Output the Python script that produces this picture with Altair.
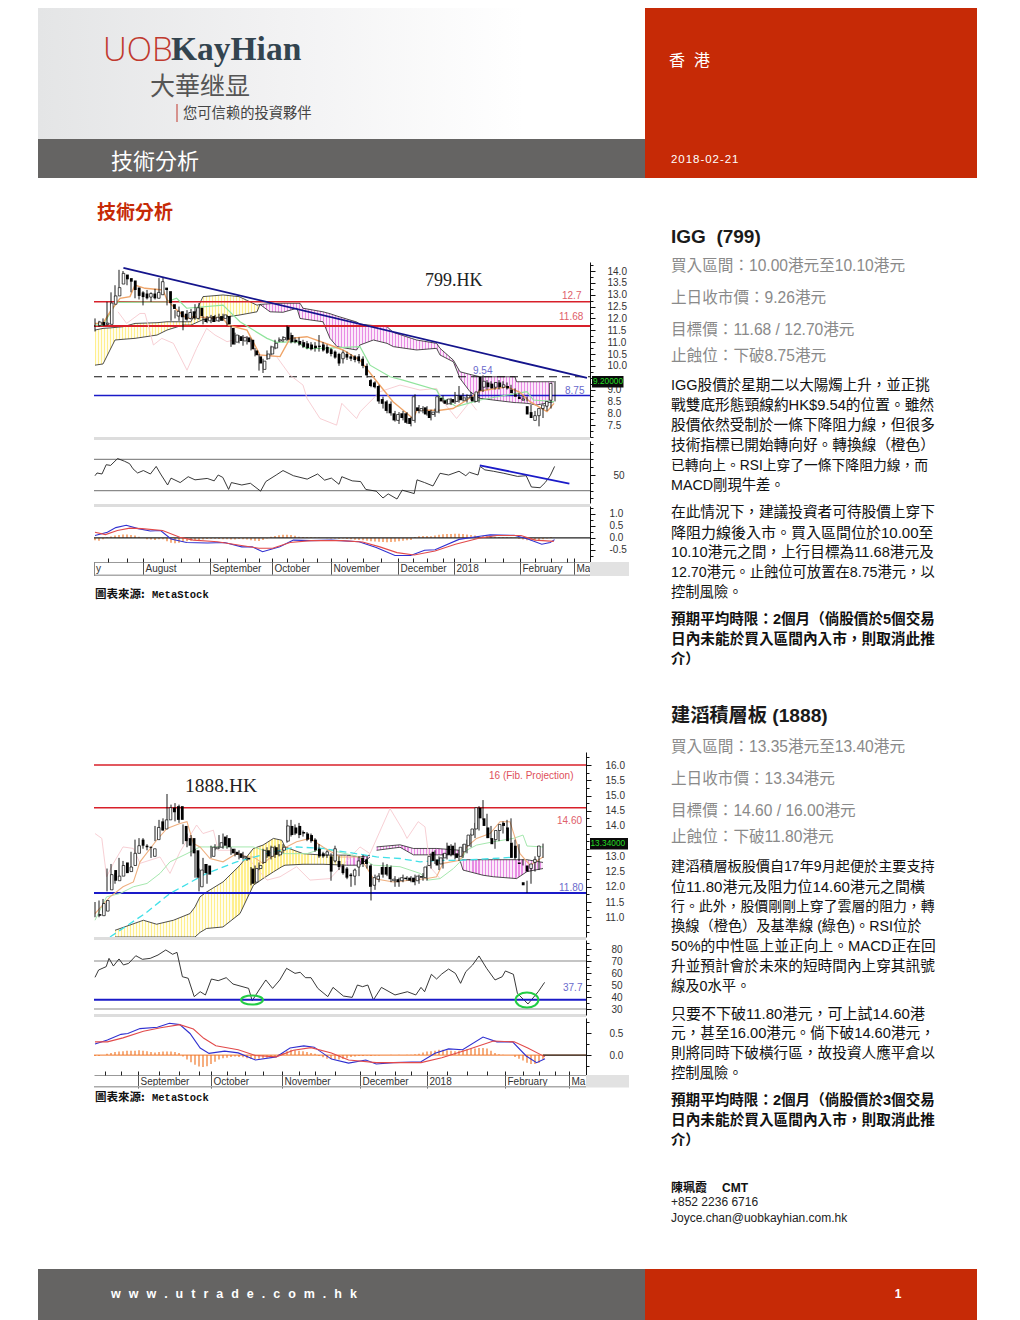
import altair as alt
import pandas as pd

W, H, M = 1004, 1312, 8
CJK = "Liberation Sans, Noto Sans CJK TC"
layers = []

# ---------- chart 1 : 799.HK ----------
a_open = [11.7,11.85,11.75,11.75,12.6,12.95,13.45,13.85,13.7,13.6,13.3,13.1,13.05,12.9,13.05,12.85,13.0,13.3,13.15,12.6,12.1,12.3,12.2,12.0,12.3,12.0,12.45,12.0,11.9,12.1,11.9,12.1,12.0,12.1,11.6,11.0,11.25,11.05,11.2,11.1,10.65,10.4,9.85,10.3,10.5,10.75,11.05,11.1,11.65,11.3,11.1,11.05,11.0,10.95,10.9,10.85,10.85,10.9,10.8,10.7,10.6,10.5,10.3,10.5,10.4,10.4,10.4,10.3,10.0,9.4,9.3,9.15,8.6,8.5,8.4,8.0,7.7,8.0,8.0,7.8,7.7,8.25,8.1,8.25,8.1,7.95,8.05,8.65,8.55,8.4,8.6,8.5,8.75,8.55,8.65,8.7,8.5,9.55,9.1,9.3,9.25,9.1,9.3,9.1,9.15,9.0,8.8,8.7,8.55,8.3,8.05,7.7,7.9,8.2,8.3,8.55]
a_close = [11.85,11.7,11.8,12.65,12.95,13.3,13.9,13.65,13.55,13.2,12.95,12.9,12.85,13.05,12.85,13.1,13.55,13.2,12.65,12.4,12.3,12.05,11.95,12.25,12.0,12.45,12.1,11.85,12.05,11.85,12.05,11.9,12.15,11.75,10.9,11.3,11.05,11.2,11.0,10.7,10.45,10.1,10.2,10.5,10.8,10.95,11.1,11.2,11.1,11.0,11.0,10.9,10.8,10.75,10.7,10.75,10.8,10.65,10.55,10.5,10.35,10.1,10.55,10.35,10.3,10.25,10.2,10.0,9.6,9.15,9.1,8.5,8.4,8.1,8.0,7.7,7.95,7.8,7.6,7.55,8.7,8.1,8.2,7.95,7.8,8.05,8.7,8.5,8.4,8.6,8.45,8.75,8.55,8.65,8.75,8.5,8.9,8.95,9.35,9.1,9.05,9.3,9.1,9.2,9.05,8.85,8.7,8.6,8.6,7.95,7.8,7.9,8.2,8.35,8.5,9.26]
a_high = [12.0,11.9,12.0,12.7,13.1,13.4,14.05,14.0,13.8,13.65,13.4,13.3,13.15,13.2,13.1,13.25,13.7,13.75,13.2,12.7,12.35,12.5,12.3,12.35,12.4,12.6,12.65,12.1,12.1,12.15,12.15,12.2,12.2,12.15,11.7,11.4,11.3,11.3,11.25,11.15,10.75,10.5,10.3,10.65,10.85,11.1,11.2,11.25,11.7,11.4,11.2,11.2,11.1,11.05,11.0,11.0,11.3,11.0,10.9,10.75,10.65,10.55,10.65,10.6,10.5,10.45,10.5,10.4,10.1,9.45,9.35,9.2,8.7,8.55,8.5,8.1,8.05,8.1,8.05,7.85,8.8,8.35,8.3,8.3,8.15,8.2,8.75,8.75,8.6,8.65,8.9,9.15,8.85,8.8,8.9,8.8,9.0,9.6,9.4,9.35,9.3,9.4,9.35,9.3,9.2,9.05,8.85,8.75,8.7,8.35,8.1,8.0,8.3,8.4,8.6,9.36]
a_low = [11.45,11.65,11.7,11.7,12.55,12.9,13.3,13.5,13.4,13.1,12.85,12.8,12.55,12.8,12.7,12.8,12.95,13.15,12.55,11.9,12.0,11.9,11.5,11.9,11.95,11.95,11.95,11.75,11.8,11.8,11.85,11.85,11.9,11.7,10.8,10.9,10.95,10.85,10.9,10.65,10.4,9.8,9.7,10.25,10.45,10.7,11.0,11.0,11.05,10.95,10.95,10.85,10.75,10.7,10.65,10.6,10.6,10.6,10.5,10.4,10.3,10.0,10.1,10.25,10.2,10.15,10.1,9.9,9.5,9.1,9.05,8.4,8.2,8.0,7.9,7.65,7.55,7.7,7.55,7.45,7.6,8.0,8.0,7.9,7.7,7.85,8.0,8.45,8.35,8.35,8.4,8.45,8.5,8.45,8.55,8.45,8.45,8.9,9.0,9.05,9.0,9.0,9.05,9.0,9.0,8.8,8.65,8.55,8.5,7.9,7.75,7.45,7.8,8.1,8.2,8.5]

a_orange_x = [0,2,3.75,6.25,8.75,10,12.5,17,18,20.5,23,24.5,32,33.3,38,39.5,41.25,46.25,48.75,53,58.75,62,66.25,70.5,74.5,79.5,80.5,86.25,89.5,93,96.25,103,106.25,108.75,113,114.75]
a_orange_y = [11.79,11.79,12.28,12.85,12.92,13.41,13.27,13.2,12.78,12.35,12.0,12.07,12.0,11.72,11.51,11.02,10.46,10.39,11.16,11.23,10.88,10.67,10.24,9.33,8.49,7.78,8.13,8.13,8.2,8.56,8.94,9.12,8.88,8.49,8.07,8.42]
a_green_x = [0,2,5.4,17.9,20.4,22.9,32,36.25,39.6,43,45.4,50.4,52.9,57,66.25,68.75,73.75,77,85.4,86.25,90.4,96.25,103,108,109.6,114.75]
a_green_y = [11.72,11.72,12.68,12.7,12.85,12.43,12.56,11.86,11.51,11.16,10.99,11.02,10.74,10.74,10.81,10.03,9.54,9.4,8.98,8.7,8.28,8.56,8.77,8.91,8.56,8.49]
a_pink_x = [5.75,7.9,11.25,12.5,14.6,16.7,19.6,23,25.4,27.9,30,33,38,40.4,45.4,48.75,52,53,56.25,60.4,61.7,65.4,66.25,71.25,76.25,81.25,85.4,87,90.4,93.75,95.4]
a_pink_y = [12.28,11.79,12.21,12.21,10.88,11.16,10.95,9.82,10.74,11.58,11.3,11.02,11.23,10.46,10.39,9.61,9.19,8.63,7.78,7.5,8.42,7.78,8.06,8.91,9.19,8.98,9.05,8.49,7.78,8.49,8.13]
a_yellow_x = [0,2,3.75,5,7,10,15.5,18,22,24,27,32,36,40.5,41.25]
a_yellow_up = [11.51,11.58,11.6,11.62,11.65,11.79,11.82,11.86,11.86,11.86,12.92,12.99,12.92,12.56,12.59]
a_yellow_lo = [10.03,10.08,10.67,11.09,11.12,11.16,11.3,11.51,11.72,11.72,11.95,12.05,12.14,12.28,12.59]
a_mag_x = [41.25,43.75,47,50.5,51.25,52,57,58.75,60.5,65.4,66.25,69.6,73,74.6,80.4,85.4,86.25,89.6,91.25,93.75,96.25,101,105,105.4,108,110.4,114.75]
a_mag_up = [12.59,12.62,12.64,12.64,12.64,12.43,12.28,12.2,12.1,11.85,11.76,11.7,11.65,11.41,11.09,10.95,10.74,10.24,9.75,9.64,9.54,9.54,9.54,9.33,9.33,9.33,9.33]
a_mag_lo = [12.59,12.28,12.26,12.43,12.0,11.98,11.86,11.16,10.81,10.67,10.88,11.09,10.95,10.81,10.67,10.74,10.46,10.17,9.47,8.91,8.63,8.53,8.45,8.45,8.42,8.35,8.49]
a_trend_x, a_trend_y = [7.1,123], [14.13,9.49]
a_rsi_x = [0,0.5,1.75,2.8,3.9,5.65,7.4,8.65,9.5,10.65,12.1,13.85,15.3,16.4,18.15,19,21.3,23.3,25,28.05,29.8,30.8,31.95,33.4,34.1,36.7,38.85,41.4,42.7,45.3,47,49.6,53.05,55.65,57.4,59.1,61,61.7,64.3,66.4,67.7,70.3,72,73.3,75.5,76.8,79.8,80.5,82.4,84.5,86.25,88.4,91,92.7,93.6,95.75,96.3,97.45,99.6,102.2,105.65,107.8,109.1,111.25,112.55,113.8,114.9]
a_rsi_y = [49.1,52.6,51.3,63.2,62.3,71.1,67.6,64.5,57.9,52.6,55.7,51.3,61,51.3,37.2,46,40.3,47.8,43.8,45.6,42.5,50,46.9,31.5,40.3,37.2,39.4,29.3,41.6,50,55.7,49.1,44.7,51.3,43.4,46,38.1,47.8,42.5,41.6,31.5,29.3,20.5,25.8,19.2,30.6,26.2,43.8,40.3,35.9,52.2,50,54.8,49.1,53.5,50,61,56.6,54.8,52.2,48.2,49.1,34.6,33.7,40.3,49.1,61]
a_rsi_trend_x, a_rsi_trend_y = [96.2,118.6], [62.3,39]
a_macd_x = [0,3.1,5.2,7.8,10.8,13.8,16.4,19,22.9,28.1,32.4,36.7,39.3,41.9,46.2,49.6,54,59.1,66,70.3,75,78.9,82.4,85,91,96.2,98.8,104.8,108.2,111.7,113.8,114.9]
a_macd_y = [0.1,0.24,0.43,0.53,0.39,0.29,0.31,-0.04,-0.19,-0.21,-0.19,-0.37,-0.37,-0.57,-0.37,-0.09,-0.11,-0.09,-0.16,-0.4,-0.73,-0.73,-0.51,-0.49,-0.06,0.07,0.13,0.11,-0.04,-0.26,-0.19,-0.07]
a_sig_x = [0,2.6,5.6,8.7,11.7,16.9,21.2,24.6,30.6,35.8,41,44.4,48.75,54,61.7,66.9,71.2,75.5,79.8,85,90.1,96.2,100.5,106.5,110,114.7]
a_sig_y = [0.24,0.14,0.31,0.41,0.39,0.31,0.03,-0.09,-0.16,-0.29,-0.43,-0.43,-0.19,-0.11,-0.11,-0.17,-0.37,-0.61,-0.71,-0.54,-0.26,0,0.1,0.1,-0.09,-0.14]
a_hist = [-0.1,-0.12,-0.05,0.03,0.06,0.1,0.12,0.14,0.14,0.12,0.1,0.05,0.0,-0.05,-0.06,-0.08,-0.05,-0.05,-0.14,-0.2,-0.22,-0.2,-0.16,-0.14,-0.12,-0.1,-0.08,-0.06,-0.04,-0.03,-0.03,-0.04,-0.05,-0.05,-0.06,-0.06,-0.04,-0.05,-0.06,-0.09,-0.12,-0.13,-0.08,-0.02,0.05,0.08,0.11,0.13,0.13,0.12,0.09,0.05,0.04,0.03,0.03,0.02,0.02,0.0,-0.01,-0.02,-0.02,-0.03,-0.02,-0.04,-0.05,-0.07,-0.08,-0.1,-0.12,-0.14,-0.15,-0.16,-0.17,-0.18,-0.17,-0.16,-0.14,-0.12,-0.1,-0.08,0.04,0.07,0.08,0.08,0.07,0.1,0.13,0.15,0.16,0.17,0.18,0.18,0.17,0.14,0.12,0.1,0.08,0.08,0.07,0.06,0.05,0.04,0.03,0.03,0.02,0.01,-0.03,-0.06,-0.09,-0.11,-0.1,-0.08,-0.05,-0.02,0.04]
a_months = ["August","September","October","November","December","2018","February","Ma"]
a_month_x = [12,28.75,44.25,59,75.75,89.75,106.25,119.75]
a_week_x = [3.2,8,17,21.5,26,33,37.5,41,48,52,55.5,63,67,71.5,79.5,83,87,93.75,97.5,102,110,114,118]

# ---------- chart 2 : 1888.HK ----------
b_open = [11.1,11.05,11.2,11.9,12.55,12.2,12.35,12.8,12.5,12.7,13.1,13.55,13.35,13.3,13.0,13.55,14.15,13.9,14.2,14.6,14.65,14.65,14.0,13.6,13.6,13.2,12.0,12.75,12.7,13.0,13.25,13.3,13.65,13.6,13.25,13.15,13.1,12.95,12.95,12.6,12.15,12.6,12.8,13.2,13.0,13.3,13.05,13.2,13.5,14.0,13.95,14.0,13.8,13.75,13.7,13.55,13.25,13.1,13.05,13.0,12.85,12.85,12.7,12.6,12.4,12.35,12.65,12.95,12.9,12.7,12.05,12.25,12.65,12.65,12.65,12.2,12.25,12.2,12.3,12.3,12.3,12.2,12.35,12.3,12.7,13.15,12.9,12.75,12.95,13.35,13.35,13.1,13.0,13.15,13.35,13.7,13.9,14.6,14.25,13.95,13.6,13.55,13.85,14.1,13.95,13.45,13.35,12.8,12.15,12.7,12.6,12.8,13.0]
b_close = [11.05,11.45,11.55,12.4,12.2,12.35,12.7,12.45,12.65,13.1,13.35,13.35,13.3,13.3,13.25,13.95,13.85,14.2,14.6,14.45,14.2,14.2,13.5,13.35,13.1,12.3,12.55,12.45,12.4,13.3,13.3,13.45,13.35,13.3,13.1,13.05,12.95,13.0,12.9,12.1,12.6,12.7,13.2,13.0,13.3,13.05,13.15,13.3,14.0,13.7,13.75,13.7,13.75,13.55,13.5,13.2,13.0,13.0,13.15,12.5,13.25,12.65,12.45,12.3,12.35,12.55,12.85,12.75,12.75,12.0,12.3,12.35,12.4,12.4,12.25,12.25,12.15,12.3,12.25,12.2,12.15,12.35,12.3,12.65,13.0,12.85,12.7,12.95,13.1,13.05,13.05,12.95,13.3,13.4,13.7,13.9,14.6,14.25,14.0,13.6,13.4,13.85,14.05,14.0,13.5,12.95,12.95,12.75,12.05,12.5,12.75,12.9,13.34]
b_high = [11.5,11.55,11.6,12.6,12.75,12.45,12.95,12.85,12.75,13.15,13.55,13.6,13.6,13.4,13.3,14.0,14.2,14.25,15.05,14.7,14.75,14.7,14.05,13.75,13.7,13.25,12.6,12.95,12.75,13.35,13.4,13.7,13.75,13.7,13.3,13.25,13.2,13.15,13.0,12.65,12.7,12.8,13.25,13.3,13.35,13.35,13.4,13.4,14.2,14.2,14.05,14.1,13.85,13.8,13.75,13.6,13.4,13.15,13.2,13.1,13.35,13.0,12.75,12.65,12.45,12.6,13.0,13.05,13.0,12.75,12.4,12.45,12.8,12.75,12.7,12.35,12.3,12.4,12.35,12.35,12.4,12.4,12.45,12.7,13.1,13.2,13.0,13.1,13.45,13.4,13.45,13.2,13.4,13.55,13.75,14.1,14.65,14.85,14.4,14.0,13.75,13.9,14.15,14.2,14.25,13.55,13.4,12.9,12.2,12.75,13.0,13.0,13.42]
b_low = [11.0,11.0,11.15,11.85,12.1,12.1,12.3,12.4,12.45,12.65,13.05,13.3,13.25,13.2,12.95,13.5,13.8,13.85,14.15,14.4,14.15,14.1,13.4,13.3,13.0,12.3,11.85,12.4,12.1,12.95,13.2,13.25,13.25,13.25,13.05,13.0,12.9,12.9,12.85,12.05,12.1,12.55,12.75,12.95,12.9,12.95,13.0,13.1,13.45,13.65,13.7,13.6,13.65,13.5,13.45,13.15,12.95,12.95,12.95,12.2,12.8,12.55,12.4,12.25,12.0,12.05,12.35,12.65,12.6,11.55,11.9,12.15,12.3,12.35,12.15,12.0,12.0,12.15,12.2,12.15,12.05,12.1,12.2,12.2,12.6,12.75,12.55,12.6,12.9,13.0,12.9,12.85,12.95,13.1,13.3,13.6,13.85,14.2,13.6,13.55,13.25,13.5,13.75,13.9,13.45,12.9,12.85,12.7,11.8,12.1,12.5,12.55,12.95]

b_orange_x = [0,3.75,7,9.6,11.25,15.4,18,21.25,23,24.6,26.25,28.75,32,35.4,38,39.6,42,46.25,50.4,53.75,57,61.25,66.25,69.6,74.6,83,85.4,87,91.25,92.9,95.4,98.75,101.25,103.75,106.25,108.75,112]
b_orange_y = [11.12,11.67,12.0,12.16,12.82,13.53,13.92,14.08,14.14,13.42,13.31,12.93,12.82,13.09,12.98,12.98,12.77,13.2,13.48,13.59,13.31,12.98,12.98,12.27,12.16,12.27,12.33,12.77,12.87,13.31,13.59,13.75,14.14,14.14,13.09,12.71,12.98]
b_green_x = [0,2.9,6.25,9.6,13,16.25,18.75,23,26.25,39.6,44.6,48.75,53,57,66.25,69.6,76.25,81.25,83.3,86.25,89.6,91.25,92.9,95.4,99.6,104.6,107,108,112]
b_green_y = [10.9,11.67,11.78,12.0,12.11,12.44,12.82,13.09,13.31,13.31,13.09,13.09,13.09,13.26,12.98,12.71,12.66,12.44,12.22,12.27,12.6,12.82,13.2,13.37,13.48,13.59,13.7,13.34,13.31]
b_pink_x = [0,1.7,2.9,4.6,7,9.6,11.25,16.25,18.75,21.25,25.4,27,29.6,30.8,33.75,38,43,46.25,50.4,53.75,58.75,66.25,68.75,73.75,77,78,80.8,82.5,83.75,86.25]
b_pink_y = [13.75,13.59,12.33,12.77,13.31,13.26,12.77,12.98,12.44,13.15,14.03,13.75,13.86,13.2,13.2,12.98,12.22,12.33,12.66,12.22,12.27,13.31,13.09,14.57,13.86,13.59,14.14,13.97,12.66,12.27]
b_cyan_x = [3.75,12.5,18.75,27.9,35.4,44.6,50.4,57,66.25,70.4,76.25,81.25,86.25,91.25,99.6,105.4]
b_cyan_y = [10.35,11.12,11.78,12.44,12.82,13.15,13.31,13.26,13.07,12.98,12.93,12.82,12.87,12.87,12.93,12.98]
b_yellow_x = [5,12.1,15.4,19.6,23.75,25,26.25,27.9,32,36.25,39.6,42,44.6,46.7,47.5,52,57,62.9]
b_yellow_up = [10.57,10.9,10.77,10.9,11.12,11.34,11.67,11.83,12.16,12.71,13.26,13.37,13.59,13.53,13.31,13.09,13.04,13.04]
b_yellow_lo = [10.35,10.35,10.35,10.35,10.35,10.35,10.5,10.63,10.68,11.12,12.05,12.27,12.49,12.66,12.71,12.74,12.74,12.71]
b_mag1_x = [62.9,66.25,68.75]
b_mag1_up = [13.04,12.98,13.04]
b_mag1_lo = [12.71,12.71,12.98]
b_mag2_x = [70.4,76.25,79.6,85.4,91.25]
b_mag2_up = [13.31,13.38,13.26,13.26,13.2]
b_mag2_lo = [13.2,13.3,13.05,13.05,13.05]
b_mag3_x = [91.25,92,97,99.6,105.4,108,112]
b_mag3_up = [12.87,12.89,12.89,12.89,12.89,12.89,12.8]
b_mag3_lo = [12.87,12.55,12.38,12.33,12.27,12.5,12.6]
b_rsi_x = [0,0.9,2.8,3.5,4.6,6,7.1,8.4,10.2,11.85,13.8,15.75,17.7,19.4,20.5,21.85,23.3,24.8,26.3,27.6,29.1,30.8,32.8,34.5,38.4,39.3,41,42.7,44.4,46.2,47.9,50,51.3,52.6,54,55.7,58.2,59.5,62.1,64.3,65.6,66.9,68.2,69.6,71.6,75,78.1,80.2,81.5,82.4,84.1,85.4,86.7,88.4,90.1,91.4,92.7,94.4,96,97.9,100,101.8,102.6,104.6,105.6,108.25,110.8,112.4]
b_rsi_y = [56.4,62.5,65.3,72.2,65.8,71.7,66.7,68,74.4,71.4,72.2,75,79.2,75.6,77.2,56.9,55.6,40.3,44.4,41.7,55,53.6,56.1,50.8,47.2,36.9,45.8,54.2,47.2,54.2,63.9,59.7,60.6,56.1,56.1,47.2,40.3,48,40.8,39.7,50,48.6,50,37.5,48,41.7,44.4,41.7,48,44.4,58.9,55,59.2,63.3,59.7,51.4,61.1,66.7,74.2,63.9,54.2,56.9,61.7,58.9,43,34.2,44.4,52.2]
b_macd_x = [0,3.1,6.5,8.2,11.25,15.6,18.6,21.2,23.75,26.3,28.5,32.4,35.8,40.1,45.3,48.75,52.2,54.8,59.1,63.4,67.7,70.3,74.6,81.5,85,88.4,91.9,97,100.5,104.4,107.8,110.4,112.5]
b_macd_y = [0.25,0.34,0.47,0.49,0.6,0.63,0.72,0.69,0.49,0.16,0.04,0.09,0.05,-0.11,-0.04,0.16,0.21,0.18,-0.09,-0.18,-0.11,-0.2,-0.17,-0.15,0.04,0.14,0.12,0.41,0.3,0.3,-0.02,-0.17,-0.08]
b_sig_x = [0,3.1,7,12.1,16.4,21.2,24.6,27.2,30.2,35.8,40.1,45.3,49.6,54,59.1,63.4,70.3,81.5,86.7,92.7,99.6,104.8,108.2,112.5]
b_sig_y = [0.3,0.3,0.39,0.54,0.62,0.69,0.59,0.38,0.21,0.12,-0.01,-0.04,0.11,0.17,0.05,-0.11,-0.17,-0.17,-0.06,0.11,0.32,0.3,0.16,-0.04]
b_hist = [-.02,-.02,.0,.03,.05,.07,.08,.09,.1,.1,.1,.11,.1,.09,.07,.06,.07,.08,.08,.08,.07,.05,-.03,-.1,-.16,-.22,-.26,-.27,-.25,-.2,-.15,-.1,-.07,-.06,-.04,-.03,-.04,-.05,-.07,-.09,-.09,-.08,-.07,-.06,-.04,-.03,.02,.05,.09,.12,.11,.1,.09,.07,.05,.03,-.02,-.05,-.08,-.09,-.1,-.1,-.09,-.07,-.04,-.03,-.02,-.02,-.01,-.02,-.01,-.01,0,0,.01,0,.01,0,.01,.01,.02,.03,.06,.08,.09,.1,.12,.12,.11,.1,.09,.1,.11,.13,.14,.15,.16,.16,.15,.1,.05,.02,.01,.0,.0,-.04,-.08,-.12,-.17,-.2,-.2,-.17,-.1]
b_months = ["September","October","November","December","2018","February","Ma"]
b_month_x = [10.75,29,46.75,66.25,83,102.5,118.5]
b_week_x = [2.5,6.5,16,21,26,33,37.5,42,51,55,60,70,75,79,88,93,98,107,111,115]
b_ellipse_x, b_ellipse_y = [39.25,108], [37.5,37.5]


def sc(dom, rng):
    return alt.Scale(domain=list(dom), range=list(rng), nice=False, zero=False)


def stripes(width_px, a, b, period=3.0, share=0.4):
    """Fine vertical hatching of a cloud, as a repeating gradient."""
    n = max(1, int(width_px / period))
    stops = []
    for k in range(n):
        stops.append(alt.GradientStop(color=a, offset=k / n))
        stops.append(alt.GradientStop(color=a, offset=(k + share) / n))
        stops.append(alt.GradientStop(color=b, offset=(k + share) / n))
        stops.append(alt.GradientStop(color=b, offset=(k + 1) / n))
    return alt.LinearGradient(gradient="linear", stops=stops, x1=0, x2=1, y1=0, y2=0)


YELLOW = ("#FFEF8E", "#FFFDEE")
MAGENTA = ("#E88CE4", "#FBE9FA")


class Panel:
    def __init__(self, xdom, xpx, ydom, ypx):
        self.xs = sc(xdom, [p - M for p in xpx])
        self.ys = sc(ydom, [p - M for p in ypx])
        self.xdom, self.ydom = xdom, ydom
        self.kx = (xpx[1] - xpx[0]) / (xdom[1] - xdom[0])

    def X(self, f="x"):
        return alt.X(f"{f}:Q", scale=self.xs, axis=None, title=None)

    def Y(self, f="y"):
        return alt.Y(f"{f}:Q", scale=self.ys, axis=None, title=None)

    def line(self, xs, ys, color, width=1.0, dash=None):
        kw = dict(color=color, strokeWidth=width, interpolate="linear")
        if dash:
            kw["strokeDash"] = dash
        layers.append(alt.Chart(pd.DataFrame({"x": xs, "y": ys})).mark_line(**kw).encode(x=self.X(), y=self.Y()))

    def hline(self, v, color, width=1.5, dash=None, x0=None):
        kw = dict(color=color, strokeWidth=width)
        if dash:
            kw["strokeDash"] = dash
        df = pd.DataFrame({"x": [x0 if x0 is not None else self.xdom[0]], "x2": [self.xdom[1]], "y": [v]})
        layers.append(alt.Chart(df).mark_rule(**kw).encode(x=self.X(), x2="x2:Q", y=self.Y()))

    def band(self, xs, up, lo, colors, edge="#222222"):
        df = pd.DataFrame({"x": xs, "u": up, "l": lo})
        fill = stripes((xs[-1] - xs[0]) * self.kx, *colors)
        layers.append(alt.Chart(df).mark_area(color=fill, opacity=1).encode(x=self.X(), y=self.Y("u"), y2="l:Q"))
        self.line(xs, up, edge, 0.8)
        self.line(xs, lo, edge, 0.8)

    def candles(self, o, c, h, l):
        df = pd.DataFrame({"x": list(range(len(o))), "o": o, "c": c, "h": h, "l": l})
        layers.append(alt.Chart(df).mark_rule(color="black", strokeWidth=0.9).encode(x=self.X(), y=self.Y("h"), y2="l:Q"))
        dn = df[df.c < df.o]
        up = df[df.c >= df.o]
        layers.append(alt.Chart(dn).mark_bar(size=2.8, color="black").encode(x=self.X(), y=self.Y("o"), y2="c:Q"))
        layers.append(alt.Chart(up).mark_bar(size=2.6, fill="white", stroke="black", strokeWidth=0.7).encode(x=self.X(), y=self.Y("o"), y2="c:Q"))

    def hist(self, vals, color="#F0782A"):
        df = pd.DataFrame({"x": list(range(len(vals))), "y": vals, "z": [0] * len(vals)})
        layers.append(alt.Chart(df).mark_rule(color=color, strokeWidth=1.2).encode(x=self.X(), y=self.Y(), y2="z:Q"))

    def yaxis(self, axis_px, minor, major, fmt=".1f", padding=12):
        df = pd.DataFrame({"x": [self.xdom[0]], "y": [self.ydom[0]]})
        off = axis_px - M - W
        expr = f"replace(format(datum.value,'{fmt}'),'\u2212','-')"
        layers.append(alt.Chart(df).mark_point(opacity=0).encode(
            x=self.X(),
            y=alt.Y("y:Q", scale=self.ys, title=None, axis=alt.Axis(
                orient="right", offset=off, values=minor, labels=False, tickSize=3, tickColor="#111", domainColor="#111", grid=False, title=None))))
        layers.append(alt.Chart(df).mark_point(opacity=0).encode(
            x=self.X(),
            y=alt.Y("y:Q", scale=self.ys, title=None, axis=alt.Axis(
                orient="right", offset=off, values=major, labelExpr=expr, tickSize=5, tickColor="#111", domain=False, grid=False, title=None,
                labelFont="Liberation Sans", labelFontSize=10, labelColor="#333", labelPadding=padding, labelOverlap=False, labelBound=False,
                labelAlign="left"))))

    def month_axis(self, line_px, values, names, weeks):
        df = pd.DataFrame({"x": [self.xdom[0]], "y": [self.ydom[0]]})
        expr = "{" + ",".join(f"'{v}':'{n}'" for v, n in zip(values, names)) + "}[datum.value]"
        layers.append(alt.Chart(df).mark_point(opacity=0).encode(
            y=self.Y(),
            x=alt.X("x:Q", scale=self.xs, title=None, axis=alt.Axis(
                orient="bottom", offset=line_px - M - H, values=values, labelExpr=expr, tickSize=13, tickColor="#555", domainColor="#999",
                labelPadding=-12, labelBaseline="top", labelAlign="left", labelOffset=2, labelFont="Liberation Sans", labelFontSize=10,
                labelColor="#333", labelOverlap=False, labelFlush=False, labelBound=False, grid=False, title=None))))
        layers.append(alt.Chart(df).mark_point(opacity=0).encode(
            y=self.Y(),
            x=alt.X("x:Q", scale=self.xs, title=None, axis=alt.Axis(
                orient="top", offset=M - line_px, values=weeks + values, labels=False, tickSize=4, tickColor="#222", domain=False, grid=False, title=None))))


def rect(x0, x1, y0, y1, fill):
    layers.append(alt.Chart(pd.DataFrame({"a": [0]})).mark_rect(color=fill).encode(
        x=alt.value(x0 - M), x2=alt.value(x1 - M), y=alt.value(y0 - M), y2=alt.value(y1 - M)))


def text(x, y, s, size=12, color="#111", weight="normal", font=CJK, align="left"):
    layers.append(alt.Chart(pd.DataFrame({"t": [s]})).mark_text(
        fontSize=size, color=color, fontWeight=weight, font=font, align=align, baseline="middle"
    ).encode(x=alt.value(x - M), y=alt.value(y - M + 0.8), text="t:N"))


def est_width(s):
    w = 0.0
    for ch in s:
        if ord(ch) > 0x2000:
            w += 1.0
        elif ch in ".,:; /":
            w += 0.278
        elif ch == "%":
            w += 0.89
        elif ch.isupper():
            w += 0.72
        else:
            w += 0.556
    return w


def body(x, y, s, weight="normal", full=True):
    size = 14.3
    if full:
        size = min(15.0, 264 / est_width(s))
    text(x, y, s, size=size, color="#111", weight=weight)


# ---------- page furniture ----------
rect(38, 645, 0, 139, alt.LinearGradient(gradient="linear", stops=[
    alt.GradientStop(color="#E4E5E6", offset=0), alt.GradientStop(color="#F2F2F3", offset=0.4), alt.GradientStop(color="#FFFFFF", offset=0.8), alt.GradientStop(color="#FFFFFF", offset=1)],
    x1=0, x2=1, y1=0, y2=0))
rect(38, 645, 139, 178, "#656463")
rect(645, 977, 0, 178, "#C62A06")
rect(38, 645, 1269, 1320, "#656463")
rect(645, 977, 1269, 1320, "#C62A06")

text(103, 50, "UOB", 33, "#C0392E", font="Open Sans, Liberation Sans", weight=300)
text(171, 49, "KayHian", 33.5, "#33444F", "bold", font="Liberation Serif")
text(150, 86, "大華继显", 25, "#555555", font="Noto Sans CJK SC")
rect(176.5, 177.5, 104, 122, "#C0392E")
text(183, 113, "您可信赖的投資夥伴", 14.3, "#444444")
text(111, 161, "技術分析", 22, "#FFFFFF")
text(669, 60, "香\u00a0\u00a0港", 16, "#FFFFFF")
text(671, 159, "\u200a".join("2018-02-21"), 11.5, "#FFFFFF")
text(97, 212, "技術分析", 19, "#C62A06", "bold")
text(111, 1293, "w w w . u t r a d e . c o m . h k".replace(" ", "\u00a0\u00a0\u200a"), 12.5, "#FFFFFF", "bold")
text(898, 1293, "1", 12, "#FFFFFF", "bold", align="center")

# ---------- chart 1 ----------
XA_DOM, XA_PX = [-0.25, 123.75], [94, 590]
pa = Panel(XA_DOM, XA_PX, [7.0, 14.38], [437, 262])
pa.band(a_yellow_x, a_yellow_up, a_yellow_lo, YELLOW)
pa.band(a_mag_x, a_mag_up, a_mag_lo, MAGENTA)
pa.hline(12.7, "#D8202A")
pa.hline(11.68, "#D8202A", 1.8)
pa.hline(9.54, "#111111", 1.2, dash=[8, 5])
pa.hline(8.75, "#1A1AC8", 1.5)
pa.line(a_pink_x, a_pink_y, "#F6C9CF", 0.9)
pa.line(a_green_x, a_green_y, "#90E49C", 1.2)
pa.line(a_orange_x, a_orange_y, "#EFA468", 1.4)
pa.candles(a_open, a_close, a_high, a_low)
pa.line(a_trend_x, a_trend_y, "#14148C", 1.8)
pa.yaxis(590, [7.0, 7.25, 7.5, 7.75, 8.0, 8.25, 8.5, 8.75, 9.0, 9.25, 9.5, 9.75, 10.0, 10.25, 10.5, 10.75, 11.0, 11.25, 11.5, 11.75, 12.0, 12.25, 12.5, 12.75, 13.0, 13.25, 13.5, 13.75, 14.0, 14.25],
         [7.5, 8.0, 8.5, 9.0, 10.0, 10.5, 11.0, 11.5, 12.0, 12.5, 13.0, 13.5, 14.0])

rsa = Panel(XA_DOM, XA_PX, [14.1, 93.6], [503, 441])
rsa.hline(70, "#8A8A8A", 1.2)
rsa.hline(30, "#8A8A8A", 1.2)
rsa.line(a_rsi_x, a_rsi_y, "#222222", 0.9)
rsa.line(a_rsi_trend_x, a_rsi_trend_y, "#1A1AC8", 1.8)
rsa.yaxis(590, [20, 30, 40, 50, 60, 70, 80, 90], [50], fmt="d", padding=18)

ma = Panel(XA_DOM, XA_PX, [-1.0, 1.33], [562, 506])
ma.hist(a_hist)
ma.hline(0, "#222222", 1.2)
ma.line(a_macd_x, a_macd_y, "#3030D0", 1.1)
ma.line(a_sig_x, a_sig_y, "#E24A4A", 1.1)
ma.yaxis(590, [-0.75, -0.5, -0.25, 0, 0.25, 0.5, 0.75, 1.0, 1.25], [-0.5, 0.0, 0.5, 1.0], padding=14)
ma.month_axis(562, a_month_x, a_months, a_week_x)

rect(94, 590, 437, 440, "#DDDDDD")
rect(94, 590, 504, 507, "#DDDDDD")
rect(94, 590, 574.5, 576, "#AAAAAA")
rect(590, 629, 562, 576, "#E2E2E2")
rect(94, 95, 562, 576, "#888888")
text(96, 568, "y", 10, "#333")
text(425, 280, "799.HK", 18, "#222222", font="Liberation Serif")
text(562, 295, "12.7", 10, "#E0606A")
text(559, 316, "11.68", 10, "#E0606A")
text(473, 370, "9.54", 10, "#6A6ACC")
text(565, 390, "8.75", 10, "#6A6ACC")
rect(592, 623.5, 376, 387.5, "#0A0A0A")
text(593, 381.5, "9.20000", 8.3, "#22DD22")
text(95, 594, "圖表來源:", 11.5, "#111111", "bold", font="Noto Sans CJK TC")
text(152, 594, "MetaStock", 10.5, "#111111", "bold", font="Liberation Mono")

# ---------- chart 2 ----------
XB_DOM, XB_PX = [-0.25, 122.75], [94, 586]
pb = Panel(XB_DOM, XB_PX, [10.35, 16.43], [937, 752])
pb.band(b_yellow_x, b_yellow_up, b_yellow_lo, YELLOW)
pb.band(b_mag1_x, b_mag1_up, b_mag1_lo, MAGENTA)
pb.band(b_mag2_x, b_mag2_up, b_mag2_lo, MAGENTA)
pb.band(b_mag3_x, b_mag3_up, b_mag3_lo, MAGENTA)
pb.hline(16.0, "#D8202A")
pb.hline(14.6, "#D8202A")
pb.hline(11.8, "#1A1AC8", 2)
pb.line(b_pink_x, b_pink_y, "#F6C9CF", 0.9)
pb.line(b_green_x, b_green_y, "#A5E8AE", 1.0)
pb.line(b_orange_x, b_orange_y, "#EFB080", 1.1)
pb.line(b_cyan_x, b_cyan_y, "#40E0E8", 1.3, dash=[7, 4])
pb.candles(b_open, b_close, b_high, b_low)
pb.yaxis(586, [10.5, 10.75, 11.0, 11.25, 11.5, 11.75, 12.0, 12.25, 12.5, 12.75, 13.0, 13.25, 13.5, 13.75, 14.0, 14.25, 14.5, 14.75, 15.0, 15.25, 15.5, 15.75, 16.0, 16.25],
         [11.0, 11.5, 12.0, 12.5, 13.0, 14.0, 14.5, 15.0, 15.5, 16.0], padding=14)

rsb = Panel(XB_DOM, XB_PX, [25.0, 87.5], [1015, 940])
rsb.hline(70, "#8A8A8A", 1.1)
rsb.hline(30, "#8A8A8A", 1.1)
rsb.line(b_rsi_x, b_rsi_y, "#222222", 0.9)
rsb.hline(37.7, "#1A1AC8", 2)
layers.append(alt.Chart(pd.DataFrame({"x": b_ellipse_x[:1], "y": b_ellipse_y[:1]})).mark_point(
    shape="M-1,0A1,0.42,0,1,1,1,0A1,0.42,0,1,1,-1,0Z", size=480, stroke="#22CC44", strokeWidth=2, filled=False, opacity=1
).encode(x=rsb.X(), y=rsb.Y()))
layers.append(alt.Chart(pd.DataFrame({"x": b_ellipse_x[1:], "y": b_ellipse_y[1:]})).mark_point(
    shape="M-1,0A1,0.66,0,1,1,1,0A1,0.66,0,1,1,-1,0Z", size=520, stroke="#22CC44", strokeWidth=2, filled=False, opacity=1
).encode(x=rsb.X(), y=rsb.Y()))
rsb.yaxis(586, [30, 35, 40, 45, 50, 55, 60, 65, 70, 75, 80, 85], [30, 40, 50, 60, 70, 80], fmt="d", padding=20)

mb = Panel(XB_DOM, XB_PX, [-0.45, 0.84], [1075, 1018])
mb.hist(b_hist)
mb.hline(0, "#F0782A", 1.0)
mb.hline(0, "#222222", 1.2, x0=112)
mb.line(b_macd_x, b_macd_y, "#3030D0", 1.1)
mb.line(b_sig_x, b_sig_y, "#E24A4A", 1.1)
mb.yaxis(586, [-0.25, 0, 0.25, 0.5, 0.75], [0.0, 0.5], padding=18)
mb.month_axis(1075, b_month_x, b_months, b_week_x)

rect(94, 586, 937, 940, "#DDDDDD")
rect(94, 586, 1014, 1017, "#DDDDDD")
rect(94, 586, 1086, 1087.5, "#AAAAAA")
rect(586, 629, 1075, 1087.5, "#E2E2E2")
text(185, 785, "1888.HK", 19.5, "#222222", font="Liberation Serif")
text(489, 775, "16 (Fib. Projection)", 10, "#E0505A")
text(557, 820, "14.60", 10, "#E0606A")
text(559, 887, "11.80", 10, "#6A6ACC")
text(563, 987, "37.7", 10, "#6A6ACC")
rect(590, 628, 838, 849.5, "#0A0A0A")
text(590.5, 843.5, "13.34000", 8.3, "#22DD22")
text(95, 1097, "圖表來源:", 11.5, "#111111", "bold", font="Noto Sans CJK TC")
text(152, 1097, "MetaStock", 10.5, "#111111", "bold", font="Liberation Mono")

# ---------- right column ----------
GREY = "#8A8A8A"
text(671, 236, "IGG\u00a0\u00a0(799)", 19, "#1A1A1A", "bold")
text(671, 265, "買入區間：10.00港元至10.10港元", 15.6, GREY)
text(671, 297, "上日收市價：9.26港元", 15.6, GREY)
text(671, 329, "目標價：11.68 / 12.70港元", 15.6, GREY)
text(671, 355, "止蝕位：下破8.75港元", 15.6, GREY)
for y_, s_, full_ in [
    (385, "IGG股價於星期二以大陽燭上升，並正挑", True),
    (405, "戰雙底形態頸線約HK$9.54的位置。雖然", True),
    (425, "股價依然受制於一條下降阻力線，但很多", True),
    (445, "技術指標已開始轉向好。轉換線（橙色）", True),
    (465, "已轉向上。RSI上穿了一條下降阻力線，而", True),
    (485, "MACD剛現牛差。", False),
    (512, "在此情況下，建議投資者可待股價上穿下", True),
    (532, "降阻力線後入市。買入區間位於10.00至", True),
    (552, "10.10港元之間，上行目標為11.68港元及", True),
    (572, "12.70港元。止蝕位可放置在8.75港元，以", True),
    (592, "控制風險。", False),
    (866, "建滔積層板股價自17年9月起便於主要支持", True),
    (886, "位11.80港元及阻力位14.60港元之間橫", True),
    (906, "行。此外，股價剛剛上穿了雲層的阻力，轉", True),
    (926, "換線（橙色）及基準線 (綠色)。RSI位於", True),
    (946, "50%的中性區上並正向上。MACD正在回", True),
    (966, "升並預計會於未來的短時間內上穿其訊號", True),
    (986, "線及0水平。", False),
    (1013, "只要不下破11.80港元，可上試14.60港", True),
    (1033, "元，甚至16.00港元。倘下破14.60港元，", True),
    (1053, "則將同時下破橫行區，故投資人應平倉以", True),
    (1073, "控制風險。", False),
]:
    body(671, y_, s_, full=full_)
for y_, s_, full_ in [
    (619, "預期平均時限：2個月（倘股價於5個交易", True),
    (639, "日內未能於買入區間內入市，則取消此推", True),
    (659, "介）", False),
    (1100, "預期平均時限：2個月（倘股價於3個交易", True),
    (1120, "日內未能於買入區間內入市，則取消此推", True),
    (1140, "介）", False),
]:
    body(671, y_, s_, weight="bold", full=full_)
text(671, 715, "建滔積層板 (1888)", 19.2, "#1A1A1A", "bold")
text(671, 746, "買入區間：13.35港元至13.40港元", 15.6, GREY)
text(671, 778, "上日收市價：13.34港元", 15.6, GREY)
text(671, 810, "目標價：14.60 / 16.00港元", 15.6, GREY)
text(671, 836, "止蝕位：下破11.80港元", 15.6, GREY)
text(671, 1187, "陳珮霞", 12, "#111", "bold")
text(722, 1187, "CMT", 12, "#111", "bold")
text(671, 1201, "+852 2236 6716", 12, "#222")
text(671, 1217, "Joyce.chan@uobkayhian.com.hk", 12, "#222")

chart = alt.layer(*layers).resolve_scale(x="independent", y="independent").properties(
    width=W, height=H, padding=0, autosize=alt.AutoSizeParams(type="none"), background="white"
).configure_view(stroke=None)

chart.save("out.html", embed_options={"renderer": "svg", "actions": False})
